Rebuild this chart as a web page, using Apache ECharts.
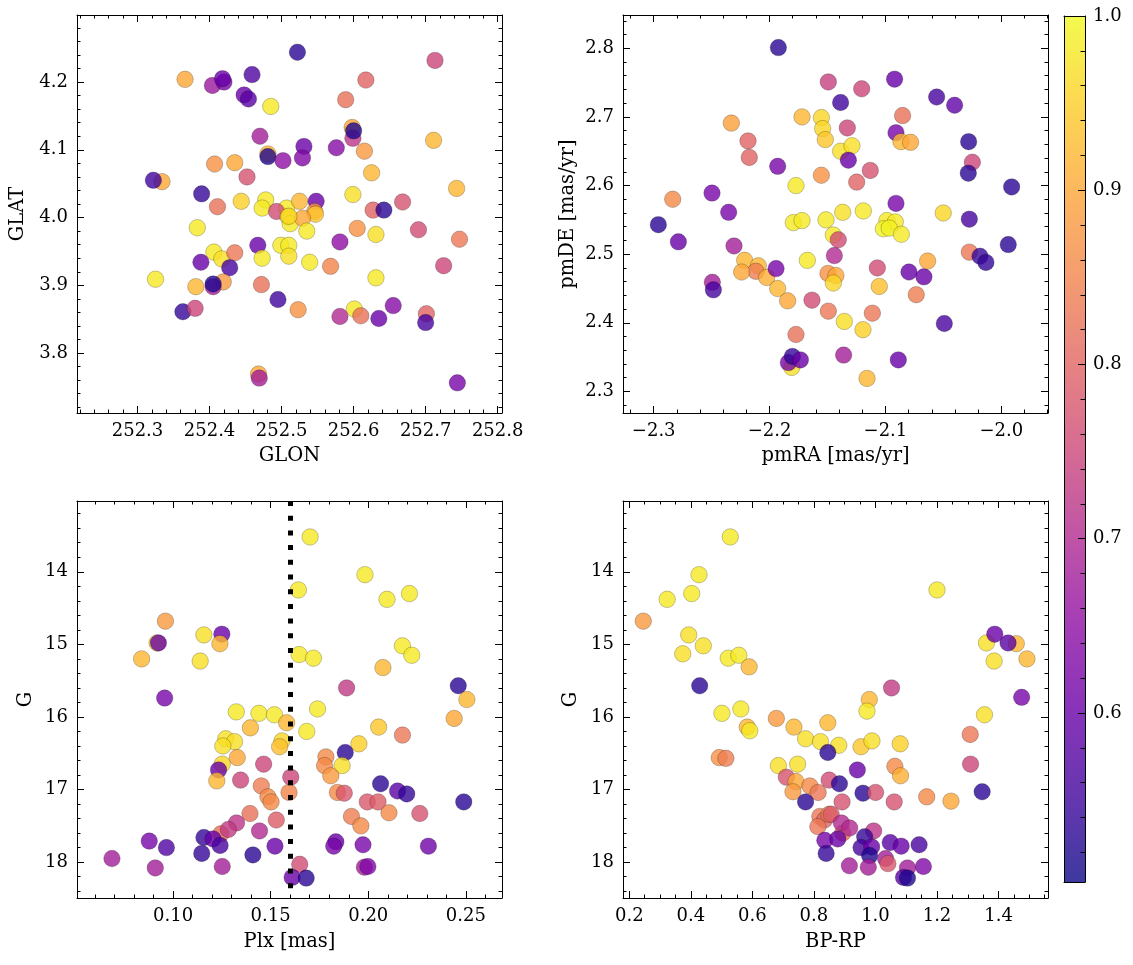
<!DOCTYPE html>
<html><head><meta charset="utf-8">
<script src="https://cdn.jsdelivr.net/npm/echarts@6/dist/echarts.min.js"></script>
<style>html,body{margin:0;padding:0;background:#fff}#c{width:1133px;height:965px}</style>
</head><body><div id="c"></div>
<script>
// ---- data: [x, y, membership probability] ----
const skyData = [
[252.522,4.244,0.53],[252.713,4.232,0.75],[252.366,4.204,0.90],[252.404,4.195,0.67],
[252.420,4.200,0.62],[252.418,4.205,0.60],[252.459,4.211,0.57],[252.448,4.181,0.60],
[252.454,4.175,0.58],[252.485,4.164,0.98],[252.617,4.203,0.80],[252.589,4.174,0.82],
[252.598,4.133,0.90],[252.599,4.117,0.72],[252.600,4.128,0.52],[252.711,4.114,0.92],
[252.470,4.120,0.68],[252.481,4.094,0.92],[252.481,4.090,0.52],[252.502,4.084,0.65],
[252.531,4.105,0.60],[252.529,4.088,0.63],[252.576,4.103,0.64],[252.615,4.098,0.88],
[252.407,4.079,0.87],[252.435,4.081,0.90],[252.452,4.060,0.77],[252.625,4.066,0.92],
[252.334,4.053,0.90],[252.322,4.055,0.55],[252.389,4.035,0.54],[252.599,4.034,0.97],
[252.743,4.043,0.92],[252.444,4.024,0.95],[252.478,4.026,0.98],[252.473,4.014,0.98],
[252.411,4.016,0.82],[252.507,4.014,0.98],[252.493,4.009,0.76],[252.525,4.024,0.92],
[252.548,4.024,0.60],[252.546,4.009,0.87],[252.547,4.005,0.94],[252.509,4.001,0.99],
[252.512,3.991,0.98],[252.529,3.999,0.90],[252.510,4.002,0.96],[252.535,3.980,0.98],
[252.627,4.011,0.80],[252.642,4.011,0.53],[252.668,4.023,0.77],[252.605,3.984,0.87],
[252.631,3.975,0.97],[252.690,3.982,0.76],[252.747,3.968,0.83],[252.383,3.985,0.98],
[252.581,3.964,0.65],[252.467,3.959,0.60],[252.499,3.959,0.98],[252.510,3.959,0.98],
[252.510,3.943,0.97],[252.406,3.949,0.98],[252.417,3.939,0.97],[252.435,3.948,0.83],
[252.473,3.940,0.98],[252.539,3.934,0.98],[252.568,3.928,0.85],[252.388,3.934,0.60],
[252.428,3.926,0.56],[252.725,3.929,0.75],[252.325,3.909,0.98],[252.631,3.911,0.98],
[252.381,3.898,0.92],[252.419,3.905,0.88],[252.405,3.898,0.68],[252.405,3.902,0.52],
[252.472,3.901,0.82],[252.495,3.879,0.55],[252.363,3.861,0.54],[252.380,3.866,0.75],
[252.523,3.864,0.87],[252.601,3.865,0.98],[252.581,3.854,0.70],[252.610,3.855,0.82],
[252.635,3.851,0.60],[252.655,3.870,0.64],[252.701,3.858,0.80],[252.700,3.845,0.56],
[252.468,3.769,0.90],[252.469,3.763,0.68],[252.744,3.756,0.62]
];
const pmData = [
[-2.1924,2.801,0.53],[-2.1493,2.751,0.74],[-2.1205,2.741,0.75],[-2.0921,2.755,0.60],
[-2.1387,2.721,0.55],[-2.0558,2.729,0.56],[-2.0403,2.717,0.59],[-2.2330,2.691,0.89],
[-2.1720,2.700,0.92],[-2.1553,2.699,0.96],[-2.1542,2.683,0.96],[-2.1519,2.667,0.94],
[-2.1329,2.684,0.75],[-2.0852,2.702,0.82],[-2.0909,2.677,0.62],[-2.0866,2.664,0.92],
[-2.0783,2.663,0.90],[-2.2186,2.665,0.80],[-2.2175,2.641,0.80],[-2.1930,2.628,0.62],
[-2.1387,2.650,0.97],[-2.1289,2.658,0.97],[-2.1320,2.637,0.60],[-2.1131,2.622,0.77],
[-2.1248,2.605,0.80],[-2.1553,2.615,0.87],[-2.1772,2.600,0.98],[-2.0282,2.664,0.53],
[-2.0250,2.634,0.75],[-2.0285,2.618,0.53],[-1.9911,2.598,0.53],[-2.2836,2.580,0.86],
[-2.2497,2.589,0.62],[-2.2353,2.561,0.62],[-2.2960,2.543,0.53],[-2.2787,2.518,0.60],
[-2.2307,2.512,0.68],[-2.0909,2.574,0.62],[-2.1369,2.561,0.97],[-2.1191,2.563,0.98],
[-2.0501,2.560,0.96],[-2.1795,2.546,0.98],[-2.1720,2.549,0.98],[-2.1513,2.550,0.98],
[-2.0987,2.549,0.98],[-2.0915,2.547,0.98],[-2.1018,2.537,0.99],[-2.0967,2.538,0.99],
[-2.0863,2.529,0.98],[-2.0276,2.551,0.56],[-2.1450,2.528,0.98],[-2.1407,2.521,0.76],
[-2.1441,2.498,0.70],[-2.1674,2.491,0.98],[-2.2215,2.491,0.92],[-2.2097,2.483,0.92],
[-2.2117,2.475,0.84],[-2.2241,2.474,0.90],[-2.2025,2.466,0.91],[-2.1930,2.450,0.92],
[-2.1844,2.432,0.90],[-2.1944,2.479,0.62],[-2.2494,2.459,0.68],[-2.2485,2.448,0.56],
[-2.1634,2.433,0.76],[-2.1496,2.472,0.87],[-2.1427,2.469,0.90],[-2.1450,2.458,0.96],
[-2.1493,2.417,0.83],[-2.1355,2.402,0.97],[-2.1194,2.390,0.95],[-2.1113,2.414,0.83],
[-2.1053,2.453,0.93],[-2.1070,2.480,0.76],[-2.0797,2.474,0.60],[-2.0668,2.467,0.60],
[-2.0636,2.490,0.90],[-2.0734,2.441,0.84],[-2.0276,2.503,0.83],[-2.0184,2.497,0.54],
[-2.0133,2.488,0.54],[-1.9940,2.514,0.53],[-2.0492,2.399,0.56],[-2.1772,2.383,0.82],
[-2.1809,2.335,0.97],[-2.1838,2.342,0.62],[-2.1803,2.351,0.54],[-2.1734,2.346,0.60],
[-2.1361,2.353,0.68],[-2.0889,2.346,0.60],[-2.1159,2.319,0.92]
];
const plxData = [
[0.1702,13.52,0.98],[0.1983,14.04,0.98],[0.1642,14.25,0.98],[0.2096,14.38,0.98],
[0.2211,14.30,0.98],[0.0961,14.68,0.88],[0.1158,14.87,0.97],[0.1250,14.86,0.60],
[0.0918,14.98,0.97],[0.0925,14.98,0.60],[0.1240,14.99,0.92],[0.0839,15.20,0.92],
[0.1139,15.23,0.97],[0.2175,15.02,0.98],[0.2223,15.15,0.98],[0.1646,15.14,0.98],
[0.1719,15.19,0.98],[0.2075,15.32,0.92],[0.1889,15.60,0.73],[0.2461,15.57,0.53],
[0.2505,15.76,0.92],[0.0957,15.74,0.62],[0.1324,15.93,0.98],[0.1440,15.95,0.98],
[0.1519,15.97,0.98],[0.1582,16.08,0.92],[0.1740,15.89,0.98],[0.2440,16.02,0.90],
[0.1396,16.15,0.92],[0.1685,16.20,0.98],[0.2053,16.14,0.94],[0.2175,16.25,0.83],
[0.1270,16.30,0.97],[0.1315,16.34,0.97],[0.1255,16.40,0.97],[0.1558,16.33,0.96],
[0.1546,16.41,0.93],[0.1952,16.37,0.95],[0.1882,16.49,0.53],[0.1329,16.56,0.90],
[0.1783,16.55,0.86],[0.1776,16.67,0.86],[0.1866,16.67,0.97],[0.1252,16.65,0.96],
[0.1464,16.65,0.75],[0.1233,16.73,0.60],[0.1224,16.88,0.92],[0.1346,16.87,0.75],
[0.1808,16.81,0.88],[0.1603,16.83,0.75],[0.1452,16.95,0.84],[0.1486,17.10,0.86],
[0.1502,17.17,0.86],[0.1594,17.04,0.85],[0.1842,17.04,0.86],[0.1877,17.05,0.78],
[0.2063,16.92,0.53],[0.2150,17.02,0.58],[0.2197,17.06,0.54],[0.2489,17.17,0.53],
[0.1995,17.17,0.78],[0.2050,17.17,0.79],[0.1394,17.33,0.82],[0.1529,17.42,0.79],
[0.1914,17.37,0.84],[0.1962,17.50,0.86],[0.2106,17.32,0.86],[0.2264,17.33,0.77],
[0.1325,17.46,0.72],[0.1245,17.61,0.82],[0.1283,17.55,0.73],[0.1443,17.57,0.70],
[0.1158,17.66,0.54],[0.1205,17.68,0.60],[0.1241,17.77,0.56],[0.0878,17.71,0.62],
[0.0966,17.80,0.57],[0.1147,17.88,0.54],[0.1409,17.90,0.53],[0.1522,17.78,0.60],
[0.0687,17.95,0.68],[0.0909,18.08,0.68],[0.1252,18.06,0.68],[0.1834,17.72,0.60],
[0.1823,17.78,0.62],[0.1973,17.76,0.62],[0.2308,17.78,0.61],[0.1980,18.07,0.68],
[0.1998,18.06,0.63],[0.1649,18.03,0.76],[0.1610,18.21,0.60],[0.1682,18.22,0.53]
];
const cmdData = [
[0.528,13.52,0.98],[0.4265,14.04,0.98],[0.323,14.38,0.98],[0.4028,14.30,0.98],
[1.200,14.25,0.98],[0.2453,14.68,0.88],[0.3931,14.87,0.97],[0.4405,15.02,0.97],
[0.3737,15.13,0.97],[0.5215,15.19,0.98],[0.556,15.15,0.98],[0.5894,15.31,0.92],
[0.4287,15.57,0.53],[1.3607,14.98,0.97],[1.4578,14.99,0.92],[1.3877,14.86,0.60],
[1.4309,14.98,0.58],[1.3856,15.23,0.97],[1.4923,15.20,0.92],[1.4751,15.73,0.62],
[1.0522,15.60,0.73],[0.980,15.76,0.92],[0.9724,15.92,0.98],[0.501,15.95,0.98],
[0.5625,15.89,0.98],[0.583,16.14,0.92],[0.5916,16.19,0.98],[0.6779,16.02,0.88],
[0.735,16.14,0.92],[0.7728,16.30,0.97],[0.8214,16.34,0.97],[0.8807,16.39,0.97],
[0.8451,16.08,0.92],[0.953,16.41,0.94],[0.9886,16.33,0.97],[1.0803,16.37,0.95],
[1.3543,15.97,0.97],[1.3079,16.24,0.83],[0.4923,16.56,0.87],[0.5140,16.57,0.84],
[0.8451,16.49,0.53],[0.6844,16.67,0.97],[0.747,16.65,0.97],[0.9411,16.73,0.60],
[1.063,16.68,0.86],[1.0814,16.81,0.91],[1.3089,16.65,0.75],[0.7103,16.83,0.77],
[0.7416,16.89,0.90],[0.7319,17.03,0.88],[0.8494,16.87,0.76],[0.8829,16.92,0.53],
[0.7868,16.95,0.86],[0.8138,17.04,0.83],[0.9594,17.05,0.53],[1.0004,17.04,0.77],
[1.3467,17.03,0.53],[1.1666,17.10,0.86],[1.2454,17.16,0.90],[1.0609,17.17,0.77],
[0.7728,17.17,0.53],[0.8915,17.17,0.77],[0.8192,17.37,0.83],[0.8343,17.42,0.80],
[0.8494,17.34,0.86],[0.856,17.34,0.78],[0.8127,17.51,0.83],[0.8936,17.60,0.82],
[0.8893,17.46,0.70],[0.9163,17.53,0.70],[0.994,17.57,0.72],[0.8354,17.70,0.62],
[0.8775,17.68,0.60],[0.9648,17.65,0.54],[0.953,17.80,0.56],[0.9875,17.79,0.60],
[0.981,17.91,0.52],[0.8397,17.88,0.54],[1.0479,17.73,0.58],[1.0835,17.78,0.60],
[1.1418,17.76,0.56],[0.9152,18.05,0.68],[0.9767,18.07,0.68],[1.0328,17.95,0.68],
[1.0404,18.02,0.78],[1.104,18.08,0.68],[1.1558,18.06,0.63],[1.0911,18.21,0.58],
[1.104,18.22,0.52]
];
const plxCut = 0.16;
const probRange = [0.503, 1.0];
const axisNames = ['GLON','GLAT','pmRA [mas/yr]','pmDE [mas/yr]','Plx [mas]','G','BP-RP','G'];
const plasma = ['#0d0887','#41049d','#6a00a8','#8f0da4','#b12a90','#cc4778','#e16462','#f2844b','#fca636','#fcce25','#f0f921'];

// ---- layout/styles ----
const FONT = 'DejaVu Serif';
const grids = [
  {left:77, top:15, width:425, height:398},
  {left:623, top:15, width:425, height:398},
  {left:77, top:501, width:425, height:397},
  {left:623, top:501, width:425, height:397},
  {left:1064, top:16, width:21, height:866}
];
function fmt(d){ return v => (v < 0 ? '\u2212' : '') + Math.abs(v).toFixed(d); }
const black = {color:'#000', width:1};
function axisPair(kind, gi, o){
  const base = {
    type:'value', gridIndex:gi, min:o.min, max:o.max, inverse:!!o.inverse,
    splitNumber:5, minInterval:o.iv, maxInterval:o.iv, z:5,
    axisLine:{show:true, onZero:false, lineStyle:black},
    axisTick:{show:true, inside:true, length:7, lineStyle:black},
    minorTick:{show:true, splitNumber:o.minor, length:3.5, lineStyle:black},
    splitLine:{show:false}, minorSplitLine:{show:false}
  };
  const main = Object.assign({}, base, {
    position: kind === 'x' ? 'bottom' : 'left',
    axisLabel:{show:true, formatter:fmt(o.dec), color:'#000', fontFamily:FONT, fontSize:18, margin:9,
               showMinLabel:false, showMaxLabel:false},
    name:o.name, nameLocation:'middle', nameGap:o.gap,
    nameTextStyle:{color:'#000', fontFamily:FONT, fontSize:19.5}
  });
  const twin = Object.assign({}, base, {
    position: kind === 'x' ? 'top' : 'right', axisLabel:{show:false}
  });
  return [main, twin];
}
const cbFrame = {type:'value', gridIndex:4, min:0, max:1, z:5,
  axisLine:{show:true, onZero:false, lineStyle:black}, axisTick:{show:false},
  axisLabel:{show:false}, splitLine:{show:false}};
const xAxes = [
  ...axisPair('x',0,{min:252.216,max:252.806,iv:0.1,minor:5,dec:1,name:axisNames[0],gap:33}),
  ...axisPair('x',1,{min:-2.3265,max:-1.9597,iv:0.1,minor:5,dec:1,name:axisNames[2],gap:33}),
  ...axisPair('x',2,{min:0.0508,max:0.2685,iv:0.05,minor:5,dec:2,name:axisNames[4],gap:34}),
  ...axisPair('x',3,{min:0.1795,max:1.5607,iv:0.2,minor:4,dec:1,name:axisNames[6],gap:34}),
  Object.assign({}, cbFrame, {position:'bottom'}),
  Object.assign({}, cbFrame, {position:'top'})
];
const yAxes = [
  ...axisPair('y',0,{min:3.7115,max:4.299,iv:0.1,minor:5,dec:1,name:axisNames[1],gap:49}),
  ...axisPair('y',1,{min:2.2686,max:2.8485,iv:0.1,minor:5,dec:1,name:axisNames[3],gap:45}),
  ...axisPair('y',2,{min:13.025,max:18.494,iv:1,minor:5,dec:0,name:axisNames[5],gap:41,inverse:true}),
  ...axisPair('y',3,{min:13.025,max:18.494,iv:1,minor:5,dec:0,name:axisNames[7],gap:42,inverse:true}),
  {type:'value', gridIndex:4, position:'right', min:probRange[0], max:probRange[1],
   splitNumber:5, minInterval:0.1, maxInterval:0.1, z:5,
   axisLine:{show:true, onZero:false, lineStyle:black},
   axisTick:{show:true, inside:true, length:7, lineStyle:black},
   minorTick:{show:true, splitNumber:5, length:4.5, lineStyle:black},
   splitLine:{show:false},
   axisLabel:{show:true, formatter:fmt(1), color:'#000', fontFamily:FONT, fontSize:18, margin:8, showMinLabel:false}},
  Object.assign({}, cbFrame, {position:'left', min:probRange[0], max:probRange[1]})
];
function scatter(data, gi){
  return {type:'scatter', xAxisIndex:2*gi, yAxisIndex:2*gi, data, symbolSize:16.5,
    itemStyle:{opacity:0.8, borderColor:'rgba(0,0,0,0.55)', borderWidth:0.5}, z:2};
}
const plxSeries = scatter(plxData, 2);
plxSeries.markLine = {silent:true, symbol:['none','none'], label:{show:false},
  lineStyle:{color:'#000', width:5, type:[5,9.7], cap:'butt', opacity:1},
  data:[{xAxis:plxCut}], animation:false};
const stops = plasma.map((c,i)=>({offset:i/(plasma.length-1), color:c}));
const option = {
  animation:false,
  backgroundColor:'#fff',
  grid: grids,
  xAxis: xAxes,
  yAxis: yAxes,
  visualMap: {type:'continuous', show:false, min:probRange[0], max:probRange[1], dimension:2,
    seriesIndex:[0,1,2,3], inRange:{color:plasma}},
  series: [
    scatter(skyData,0), scatter(pmData,1), plxSeries, scatter(cmdData,3),
    {type:'custom', xAxisIndex:8, yAxisIndex:8, silent:true, z:1,
     data:[[0, probRange[0], 1, probRange[1]]],
     renderItem:(params, api)=>{
       const p0 = api.coord([api.value(0), api.value(1)]);
       const p1 = api.coord([api.value(2), api.value(3)]);
       return {type:'rect', shape:{x:p0[0], y:p1[1], width:p1[0]-p0[0], height:p0[1]-p1[1]},
         style:{fill:new echarts.graphic.LinearGradient(0,1,0,0,stops), opacity:0.8}};
     }}
  ]
};
const chart = echarts.init(document.getElementById('c'), null, {renderer:'canvas'});
chart.setOption(option);
</script></body></html>
